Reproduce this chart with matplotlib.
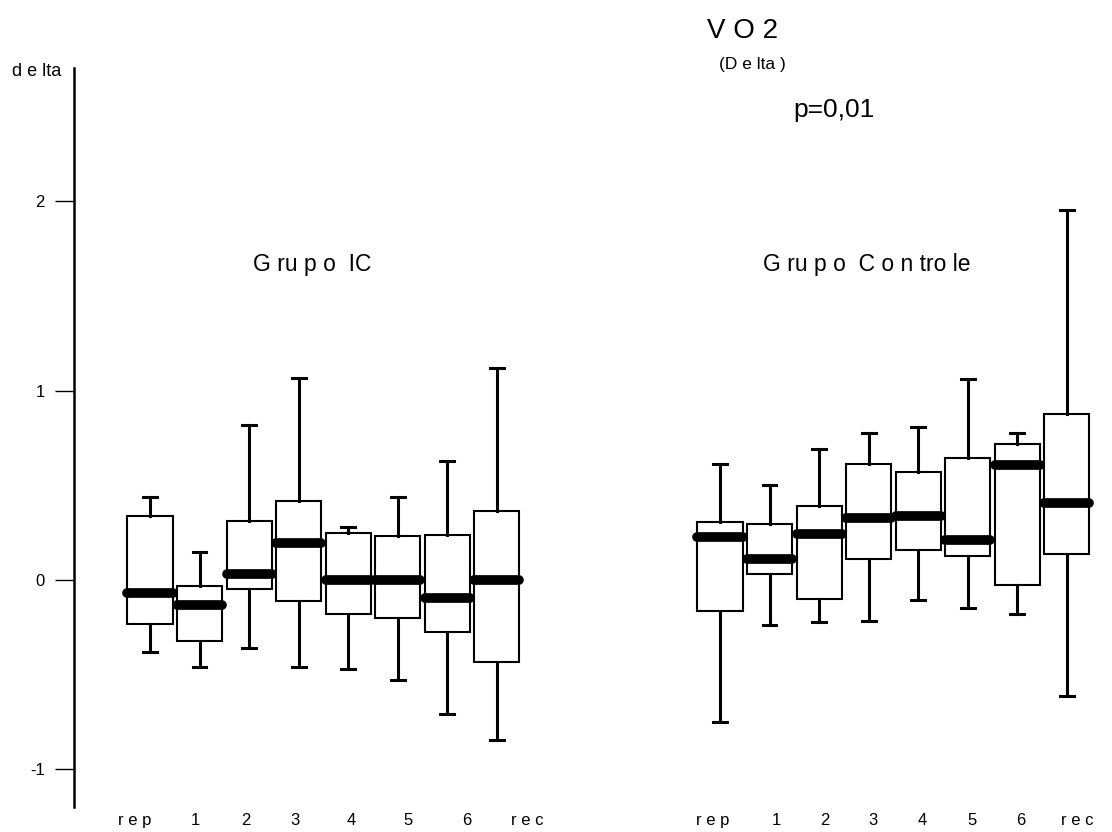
import numpy as np
import matplotlib
matplotlib.use("Agg")
import matplotlib.pyplot as plt

plt.rcParams['font.family'] = ['Liberation Sans', 'DejaVu Sans']

# box values (delta VO2)
ic_whislo = [-0.38, -0.46, -0.36, -0.46, -0.47, -0.53, -0.705, -0.846]
ic_q1 = [-0.23, -0.32, -0.05, -0.11, -0.18, -0.20, -0.274, -0.435]
ic_med = [-0.07, -0.13, 0.03, 0.196, 0.0, 0.0, -0.093, 0.0]
ic_q3 = [0.34, -0.03, 0.31, 0.415, 0.25, 0.23, 0.235, 0.365]
ic_whishi = [0.44, 0.15, 0.82, 1.068, 0.28, 0.44, 0.628, 1.119]

ctl_whislo = [-0.75, -0.24, -0.22, -0.216, -0.105, -0.147, -0.18, -0.614]
ctl_q1 = [-0.163, 0.033, -0.10, 0.11, 0.16, 0.126, -0.026, 0.135]
ctl_med = [0.228, 0.11, 0.245, 0.325, 0.34, 0.21, 0.605, 0.407]
ctl_q3 = [0.305, 0.296, 0.39, 0.61, 0.568, 0.646, 0.72, 0.874]
ctl_whishi = [0.61, 0.50, 0.69, 0.774, 0.807, 1.063, 0.774, 1.95]

categorias = ['r e p', '1', '2', '3', '4', '5', '6', 'r e c']
yticks = [-1, 0, 1, 2]
ylabels = ['-1', '0', '1', '2']

# layout
pos_ic = np.arange(1, 9)
pos_ctl = np.arange(12.5, 20.5)
lab_ic = [0.70, 1.91, 2.93, 3.92, 5.07, 6.20, 7.39, 8.62]
lab_ctl = [12.35, 13.63, 14.61, 15.58, 16.58, 17.59, 18.57, 19.71]

W, H = 1112, 832
fig = plt.figure(figsize=(W / 100, H / 100), dpi=100)
ax = fig.add_axes([74 / W, 1 - 807 / H, (W - 74) / W, (807 - 68) / H])


def stats(lo, q1, med, q3, hi):
    return [dict(whislo=a, q1=b, med=c, q3=d, whishi=e, fliers=[])
            for a, b, c, d, e in zip(lo, q1, med, q3, hi)]


kw = dict(widths=0.91, capwidths=0.28, showfliers=False, patch_artist=True,
          boxprops=dict(facecolor='white', edgecolor='black', linewidth=1.5),
          whiskerprops=dict(color='black', linewidth=2.2),
          capprops=dict(color='black', linewidth=2.2),
          medianprops=dict(color='black', linewidth=7, solid_capstyle='round'))

ax.bxp(stats(ic_whislo, ic_q1, ic_med, ic_q3, ic_whishi), positions=pos_ic, **kw)
ax.bxp(stats(ctl_whislo, ctl_q1, ctl_med, ctl_q3, ctl_whishi), positions=pos_ctl, **kw)

ax.set_xlim(-0.533, 20.41)
ax.set_ylim(-1.198, 2.702)

for s in ['top', 'right', 'bottom']:
    ax.spines[s].set_visible(False)
ax.spines['left'].set_linewidth(1.8)

ax.set_yticks(yticks, ylabels)
ax.tick_params(axis='y', direction='out', length=14, width=1.0, pad=7, labelsize=12)
ax.set_xticks(list(lab_ic) + list(lab_ctl), categorias + categorias)
ax.tick_params(axis='x', length=0, pad=4, labelsize=12)


def ftext(x, y, s, size):
    fig.text(x / W, 1 - y / H, s, fontsize=size, ha='left', va='center')


ftext(12, 72, 'd e lta', 13)
ftext(707, 31, 'V O 2', 20)
ftext(719, 65, '(D e lta )', 12.5)
ftext(793, 110, 'p=0,01', 19)
ftext(253, 265, 'G ru p o  IC', 16.5)
ftext(763, 264, 'G ru p o  C o n tro le', 16.5)

fig.savefig('out.png', dpi=100)
